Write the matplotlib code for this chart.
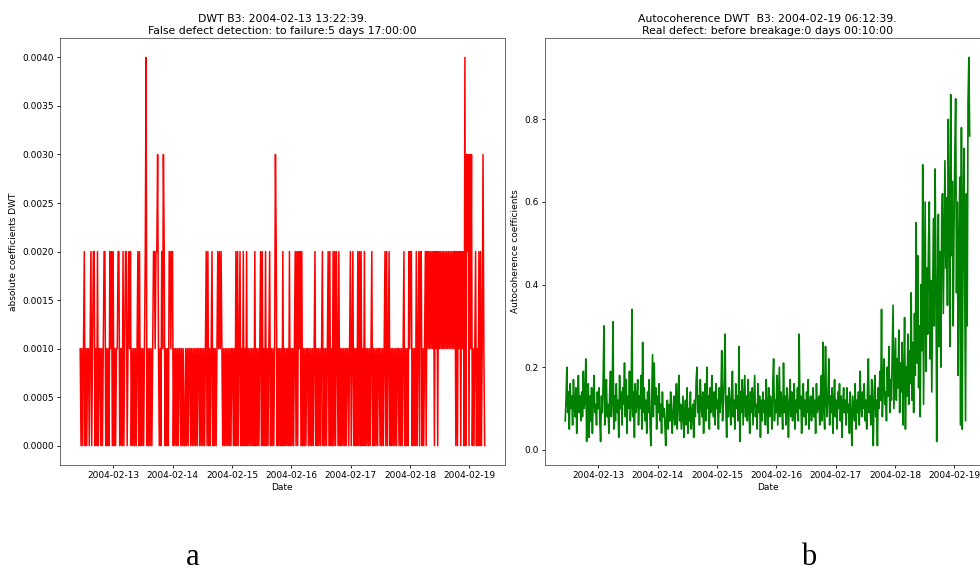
"""Bearing B3 test: DWT coefficients vs autocoherence of DWT, side by side."""

import matplotlib
matplotlib.use("Agg")
import matplotlib.dates as mdates
import matplotlib.pyplot as plt
import numpy as np
import pandas as pd

START = "2004-02-12 10:32:39"
STEP = "20min"

# absolute DWT coefficient, in units of 0.001 (one digit per sample)
dwt_levels = (
    "1010120101" "1012012201" "0201101012" "2010102120" "2010112201"
    "1020122012" "1201010101" "2020101012" "4010101012" "2122310102"
    "1320101022" "1220101010" "1101010010" "1011010101" "0101101010"
    "1012020101" "2010101212" "1210101010" "1010110102" "0201201020"
    "1020101010" "1020101012" "0201020101" "2010101320" "1010102010"
    "1010201010" "1202021202" "0101011010" "1010120101" "0101201010"
    "1202010202" "0210201010" "1010110120" "1201010202" "0201020101"
    "0101201010" "1011010101" "2020120101" "0101011010" "1012010102"
    "1220101020" "1202201012" "0212121212" "0212021212" "1212121212"
    "1212120202" "1202120403" "2303130101" "2010202013" "10"
)

# autocoherence of DWT, in hundredths
auto_pct = [
    7, 12, 20, 9, 14, 5, 16, 10, 13, 6, 17, 11, 8, 15, 4, 12, 18, 9, 13, 7,
    14, 8, 19, 10, 12, 22, 2, 11, 16, 3, 13, 7, 15, 4, 12, 18, 9, 11, 6, 14,
    10, 15, 7, 2, 13, 9, 16, 30, 6, 12, 17, 8, 11, 4, 14, 19, 8, 12, 31, 5,
    13, 7, 16, 9, 12, 3, 18, 10, 14, 6, 15, 11, 21, 8, 17, 4, 13, 10, 19, 7,
    11, 34, 8, 14, 3, 16, 9, 12, 17, 6, 13, 10, 18, 5, 26, 9, 15, 7, 12, 4,
    14, 9, 17, 6, 1, 12, 23, 8, 21, 11, 15, 5, 13, 9, 16, 7, 11, 4, 14, 8,
    10, 6, 1, 9, 12, 5, 11, 7, 14, 8, 4, 10, 13, 6, 9, 16, 5, 12, 18, 7,
    11, 5, 9, 13, 3, 8, 12, 6, 15, 4, 10, 7, 14, 5, 9, 11, 3, 12, 8, 17,
    20, 9, 13, 6, 17, 11, 8, 14, 4, 12, 16, 7, 20, 10, 13, 5, 15, 9, 18, 11,
    8, 14, 6, 16, 10, 12, 5, 15, 9, 13, 24, 7, 11, 17, 28, 10, 3, 13, 8, 15,
    11, 6, 14, 19, 8, 12, 5, 16, 10, 13, 7, 25, 2, 14, 9, 17, 6, 12, 18, 8,
    13, 7, 17, 10, 4, 14, 9, 15, 6, 12, 18, 8, 11, 5, 16, 9, 13, 3, 12, 7,
    14, 9, 12, 6, 17, 10, 4, 15, 8, 13, 11, 5, 16, 22, 7, 12, 9, 18, 6, 13,
    20, 8, 14, 10, 5, 21, 9, 13, 6, 15, 11, 3, 12, 17, 8, 14, 7, 10, 16, 5,
    12, 9, 15, 7, 28, 10, 13, 4, 11, 16, 8, 12, 6, 14, 9, 17, 5, 11, 13, 7,
    10, 15, 8, 12, 4, 16, 9, 11, 13, 6, 14, 18, 7, 26, 10, 5, 25, 12, 8, 14,
    22, 6, 13, 9, 15, 4, 11, 17, 8, 12, 5, 14, 10, 16, 7, 13, 3, 11, 15, 9,
    12, 6, 15, 9, 11, 4, 14, 8, 1, 13, 10, 7, 16, 5, 12, 9, 14, 6, 19, 11,
    8, 14, 10, 16, 7, 12, 5, 15, 22, 9, 13, 6, 17, 11, 1, 14, 18, 8, 12, 1,
    15, 10, 19, 12, 34, 8, 16, 22, 11, 14, 7, 20, 13, 25, 9, 17, 12, 24, 35, 10,
    18, 27, 12, 22, 15, 29, 9, 21, 14, 26, 6, 17, 32, 5, 20, 13, 28, 11, 24, 16,
    38, 12, 26, 9, 33, 18, 55, 21, 47, 15, 30, 8, 40, 24, 69, 11, 36, 60, 19, 44,
    28, 50, 60, 22, 41, 14, 35, 56, 30, 68, 45, 2, 38, 57, 25, 48, 20, 55, 62, 33,
    52, 70, 44, 61, 35, 80, 58, 25, 86, 47, 65, 30, 54, 72, 85, 38, 60, 18, 50, 66,
    6, 78, 5, 55, 73, 40, 7, 62, 30, 84, 95, 76,
]

left_title = ("DWT B3: 2004-02-13 13:22:39.\n"
              "False defect detection: to failure:5 days 17:00:00")
right_title = ("Autocoherence DWT  B3: 2004-02-19 06:12:39.\n"
               "Real defect: before breakage:0 days 00:10:00")

dwt_coef = np.array([int(c) for c in dwt_levels]) * 0.001
autocoh = np.array(auto_pct) / 100.0
t_dwt = pd.date_range(START, periods=len(dwt_coef), freq=STEP)
t_auto = pd.date_range(START, periods=len(autocoh), freq=STEP)

TICK_FS = 6.5
LABEL_FS = 6.5
TITLE_FS = 7.8

fig = plt.figure(figsize=(9.8, 5.72), dpi=100)
ax_a = fig.add_axes([0.0612, 0.187, 0.454, 0.7465])
ax_b = fig.add_axes([0.5561, 0.187, 0.454, 0.7465])

ax_a.plot(t_dwt, dwt_coef, color="red", linewidth=1.1)
ax_a.set_ylabel("absolute coefficients DWT", fontsize=LABEL_FS, labelpad=3)
ax_a.set_title(left_title, fontsize=TITLE_FS, pad=3, linespacing=1.2)

ax_b.plot(t_auto, autocoh, color="green", linewidth=1.2)
ax_b.set_ylabel("Autocoherence coefficients", fontsize=LABEL_FS, labelpad=3)
ax_b.set_title(right_title, fontsize=TITLE_FS, pad=3, linespacing=1.2)
ax_b.set_yticks([0.0, 0.2, 0.4, 0.6, 0.8])

for ax in (ax_a, ax_b):
    ax.xaxis.set_major_locator(mdates.DayLocator())
    ax.xaxis.set_major_formatter(mdates.DateFormatter("%Y-%m-%d"))
    ax.set_xlabel("Date", fontsize=LABEL_FS, labelpad=2)
    ax.tick_params(labelsize=TICK_FS, length=2.3, width=0.6, pad=2)
    for sp in ax.spines.values():
        sp.set_linewidth(0.6)
        sp.set_color("#555555")

# panel letters under each plot (baseline kept just inside the bottom edge)
fig.text(193 / 980, 1 - 565 / 572, "a", fontsize=22, family="Liberation Serif",
         ha="center", va="baseline")
fig.text(809 / 980, 1 - 565 / 572, "b", fontsize=22, family="Liberation Serif",
         ha="center", va="baseline")

fig.savefig("out.png", dpi=100)
